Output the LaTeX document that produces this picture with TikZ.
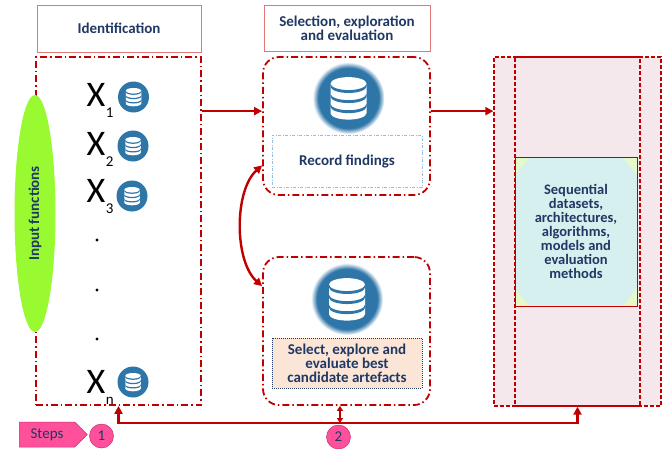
\documentclass[tikz,border=0pt]{standalone}
\usepackage{fontspec}
\setmainfont{Carlito}
\usetikzlibrary{arrows.meta,shapes.geometric,shapes.symbols}
\definecolor{darkred}{RGB}{192,0,0}
\definecolor{hdrred}{RGB}{225,120,120}
\definecolor{navy}{RGB}{31,56,100}
\definecolor{limegreen}{RGB}{153,250,50}
\definecolor{dbblue}{RGB}{46,117,168}
\definecolor{paleblue}{RGB}{150,190,225}
\definecolor{peach}{RGB}{251,229,214}
\definecolor{blush}{RGB}{245,232,237}
\definecolor{paleaqua}{RGB}{214,240,240}
\definecolor{palelime}{RGB}{228,250,200}
\definecolor{hotpink}{RGB}{255,80,155}
\definecolor{deeppink}{RGB}{205,45,110}
\pgfdeclareradialshading{dbglow}{\pgfpoint{0bp}{0bp}}{color(0bp)=(dbblue); color(21bp)=(dbblue); color(25bp)=(white); color(50bp)=(white)}
\newcommand{\Xsub}[1]{X\kern0.5pt\lower11pt\hbox{\fontsize{15}{15}\selectfont #1}}
\tikzset{
  hdrbox/.style={draw=hdrred, line width=0.9pt, align=center, text=navy, inner sep=0pt,
    font=\bfseries\fontsize{15}{14}\selectfont},
  dashdot/.style={draw=darkred, line width=1.8pt, dash pattern=on 7pt off 3pt on 1.5pt off 3pt},
  dashbox/.style={draw=darkred, line width=1.3pt, dash pattern=on 4pt off 2pt},
  findbox/.style={line width=0.7pt, align=center, text=navy, inner sep=0pt,
    font=\bfseries\fontsize{15}{14}\selectfont},
  inputs/.style={ellipse, fill=limegreen, rotate=90, minimum width=237, minimum height=41,
    inner sep=0pt, text=navy, font=\bfseries\fontsize{15}{15}\selectfont},
  xlab/.style={anchor=base west, inner sep=0pt, font=\fontsize{36}{36}\selectfont},
  dotmark/.style={circle, fill=black, minimum size=3.2, inner sep=0pt},
  dbsmall/.style={circle, fill=dbblue, minimum size=31, inner sep=0pt},
  dbbig/.style={circle, minimum size=72, inner sep=0pt, shading=dbglow},
  redarrow/.style={draw=darkred, line width=2.4pt, -{Triangle[length=8pt,width=8pt]}},
  twoway/.style={draw=darkred, line width=2.4pt, {Triangle[length=8pt,width=8pt]}-{Triangle[length=8pt,width=8pt]}},
  shortway/.style={draw=darkred, line width=1.6pt, {Triangle[length=5pt,width=6pt]}-{Triangle[length=5pt,width=6pt]}},
  stepdot/.style={circle, fill=hotpink, draw=deeppink, line width=0.5pt, minimum size=24,
    inner sep=0pt, text=navy, font=\fontsize{15}{15}\selectfont},
  pics/cylstack/.style={code={
    \fill[white] (-0.5,-0.4) -- (-0.5,0.42) arc[start angle=180,end angle=0,x radius=0.5,y radius=0.18]
      -- (0.5,-0.4) arc[start angle=0,end angle=-180,x radius=0.5,y radius=0.18] -- cycle;
    \foreach \c in {-0.4,-0.12,0.16}
      \fill[dbblue] (-0.5,\c) arc[start angle=180,end angle=0,x radius=0.5,y radius=0.18]
        -- (0.5,\c+0.08) arc[start angle=0,end angle=180,x radius=0.5,y radius=0.18] -- cycle;
  }},
}
\begin{document}
\begin{tikzpicture}[x=1pt,y=-1pt]
\useasboundingbox (0,0) rectangle (670,448);

% identification column
\node[hdrbox, minimum width=164, minimum height=47] (idhead) at (119,28.5) {Identification};
\node[dashdot, minimum width=165, minimum height=348] (idbox) at (118.5,231) {};
\node[inputs] (inputs) at (35,213.5) {Input functions};
\node[xlab] (x1) at (86.5,106) {\Xsub{1}};
\node[xlab] (x2) at (86.5,155) {\Xsub{2}};
\node[xlab] (x3) at (86.5,202) {\Xsub{3}};
\node[xlab] (xn) at (86.5,393) {\Xsub{n}};
\foreach \y [count=\i] in {240,290,339}
  \node[dotmark] (dot\i) at (97,\y) {};
\foreach \n/\x/\y in {1/133.5/97, 2/133/146, 3/132/196, n/133/382} {
  \node[dbsmall] (db\n) at (\x,\y) {};
  \pic[scale=15.5] at (db\n) {cylstack};
}

% selection, exploration and evaluation
\node[hdrbox, minimum width=166, minimum height=46] (selhead) at (347,28) {Selection, exploration\\and evaluation};
\node[dashdot, rounded corners=16pt, minimum width=167, minimum height=138] (recbox) at (346.5,126) {};
\node[dbbig] (dbrec) at (348.5,98) {};
\pic[scale=36] at (dbrec) {cylstack};
\node[findbox, draw=paleblue, dash pattern=on 3pt off 1.5pt on 1pt off 1.5pt,
  minimum width=150, minimum height=52] (recfind) at (347,161) {Record findings};
\node[dashdot, rounded corners=16pt, minimum width=167, minimum height=148] (bestbox) at (346.5,331) {};
\node[dbbig] (dbbest) at (347,299) {};
\pic[scale=36] at (dbbest) {cylstack};
\node[findbox, draw=navy, fill=peach, dash pattern=on 1pt off 1pt,
  minimum width=150, minimum height=50] (bestsel) at (347,363) {Select, explore and\\evaluate best\\candidate artefacts};

% results
\node[dashbox, fill=blush, minimum width=167, minimum height=349] (resbox) at (577.5,231.5) {};
\node[dashbox, minimum width=125, minimum height=349] (reslane) at (577.5,231.5) {};
\begin{scope}
  \clip (515,157) rectangle (637,306);
  \fill[palelime] (515,157) rectangle (637,306);
  \fill[paleaqua] (576,231.5) ellipse[x radius=76,y radius=93];
\end{scope}
\node[draw=darkred, line width=1pt, minimum width=122, minimum height=149, align=center, text=navy,
  font=\bfseries\fontsize{14.5}{14}\selectfont] (resinner) at (576,231.5)
  {Sequential\\datasets,\\architectures,\\algorithms,\\models and\\evaluation\\methods};

% connectors
\draw[redarrow] (idbox.east |- recbox.170) -- (recbox.170);
\draw[redarrow] (recbox.10) -- (resbox.west |- recbox.10);
\draw[twoway] (recbox.205) .. controls +(-28,25) and +(-28,-25) .. (bestbox.152);
\coordinate (base) at (341,423);
\draw[twoway] (idbox.south) |- (base) -| (resbox.south);
\draw[shortway] (bestbox.265) -- (bestbox.265 |- base);

% steps
\node[signal, signal to=east, signal pointer angle=90, fill=hotpink, draw=deeppink, line width=0.5pt,
  minimum width=68, minimum height=25, inner sep=0pt, text=navy, font=\fontsize{15}{15}\selectfont] (steps) at (47,434.5) {Steps};
\node[stepdot] (stepone) at (101.5,436) {1};
\node[stepdot] (steptwo) at (338.5,437) {2};

\end{tikzpicture}
\end{document}
